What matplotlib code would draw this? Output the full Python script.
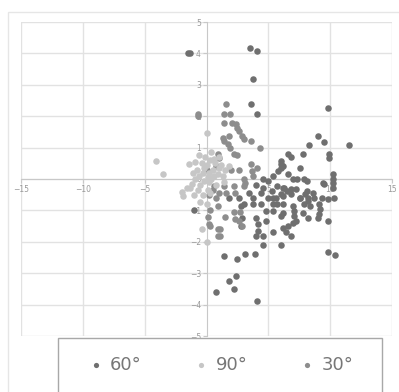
import matplotlib
matplotlib.use("Agg")
import matplotlib.pyplot as plt
from matplotlib.patches import Rectangle

# ── data ─────────────────────────────────────────────────────────────────────
x60 = [-1.5, -1.3, 3.5, 4.05, 3.8, 3.6, 4.1, 9.8, 11.5, 9.0, 9.5, 8.3, 9.9, 9.9,
       6.6, 6.8, 7.8, 7.6, 6.0, 6.0, 6.0, 6.6, 10.2, 10.2, 10.2, 7.0, 7.3, 7.9,
       8.1, 9.4, 9.5, 10.2, 6.3, 6.5, 6.8, 7.2, 8.1, 8.6, 7.6, 8.2, 8.7, 9.3,
       9.8, 10.3, 5.0, 5.4, 5.8, 6.2, 4.6, 5.3, 5.7, 6.2, 6.0, 3.8, 5.0, 5.4,
       5.6, 6.2, 6.8, 7.6, 8.0, 9.1, 9.2, 9.1, 9.0, 2.8, 3.0, 3.8, 4.4, 5.4,
       5.7, 6.2, 7.0, 7.9, 8.2, 8.4, 4.8, 5.4, 6.2, 6.0, 7.1, 7.1, 7.8, 8.2,
       2.9, 4.0, 4.8, 2.8, 4.2, 7.2, 9.8, 7.0, 6.6, 6.2, 5.4, 6.4, 6.8, 4.0,
       4.6, 4.2, 4.6, 6.0, 3.1, 3.9, 9.8, 10.4, 4.1, 1.4, 2.5, 1.8, 2.4, 2.2,
       0.8, -1.05, 3.4, 4.0, 4.4, 4.6, 2.6, 1.8]
y60 = [4.0, 4.0, 4.18, 4.08, 3.18, 2.39, 2.07, 2.26, 1.08, 1.37, 1.18, 1.08, 0.8, 0.67,
       0.8, 0.7, 0.8, 0.35, 0.57, 0.48, 0.35, 0.16, 0.16, 0.0, -0.13, 0.0, 0.0, 0.0,
       -0.06, -0.13, -0.16, -0.3, -0.29, -0.38, -0.32, -0.32, -0.38, -0.45, -0.6, -0.6, -0.6, -0.6,
       -0.63, -0.6, -0.06, 0.1, 0.25, 0.4, -0.29, -0.38, -0.22, -0.29, -0.48, -0.6, -0.6, -0.6,
       -0.6, -0.54, -0.48, -0.6, -0.48, -0.8, -0.95, -1.1, -1.25, -0.85, -0.8, -0.8, -0.8, -0.8,
       -0.8, -0.8, -0.85, -0.8, -0.7, -0.85, -1.02, -1.02, -1.08, -1.18, -1.02, -1.18, -1.08, -1.25,
       -1.25, -1.25, -1.34, -1.5, -1.43, -1.34, -1.34, -1.4, -1.5, -1.56, -1.7, -1.7, -1.8, -1.8,
       -1.8, -1.66, -2.1, -2.1, -2.4, -2.4, -2.32, -2.42, -3.9, -2.45, -2.55, -3.25, -3.1, -3.5,
       -3.6, -1.0, -0.45, -0.2, -0.45, 0.0, -0.6, -0.6]

x30 = [1.55, 1.4, 1.9, -0.65, -0.7, 1.4, 2.1, 2.4, 2.5, 2.6, 1.3, 1.4, 1.7, 1.9,
       2.9, 3.0, 1.8, 3.6, 4.3, 2.2, 2.5, 0.9, 1.0, 3.6, 4.1, 3.7, 3.8, 3.0,
       3.1, 0.6, 1.4, 2.2, 3.0, 1.0, 1.6, 2.3, 0.3, 0.1, 0.2, 0.3, 0.9, 1.1,
       0.9, 1.1, 1.5, 2.2, 2.7, 2.3, 2.6, 2.9, 0.9, 0.5, 0.0, 0.8, 2.0, 2.6,
       0.2, 0.8]
y30 = [2.39, 2.07, 2.07, 2.07, 2.0, 1.78, 1.78, 1.75, 1.62, 1.53, 1.3, 1.21, 1.11, 1.0,
       1.37, 1.27, 1.37, 1.21, 0.98, 0.8, 0.76, 0.8, 0.67, 0.48, 0.35, 0.25, 0.1, 0.0,
       -0.13, -0.22, -0.22, -0.22, -0.22, -0.45, -0.45, -0.45, -1.0, -1.2, -1.43, -1.5, -1.6, -1.6,
       -1.8, -1.8, -1.2, -1.05, -1.05, -1.27, -1.34, -1.5, -0.86, -0.35, 0.3, 0.4, 0.3, 0.3,
       -0.5, -0.6]

x90 = [-4.1, -3.5, -1.4, 0.05, -1.9, -0.5, 0.05, -0.4, -0.8, -0.6, -0.3, 0.0, 0.3,
       0.5, 0.7, 1.0, 1.2, 0.4, 0.2, -0.2, -0.5, -0.9, -1.1, -0.4, 1.5, 0.9, 0.6,
       -0.1, 0.4, -0.7, 0.1, -1.2, 1.3, 1.8, -0.3, -0.6, 0.2, -1.6, -2.0, -1.3,
       -0.9, 0.1, 0.6, 1.0, 0.3, -0.2, 0.8, 1.4, -1.0, 0.0]
y90 = [0.57, 0.16, 0.48, 1.46, -0.54, -0.73, -2.0, -1.6, 0.3, 0.1, 0.2, 0.45, 0.6,
       0.3, 0.5, 0.35, 0.45, 0.0, -0.1, -0.05, -0.2, 0.0, 0.2, 0.5, 0.3, 0.15, 0.1,
       0.7, 0.85, -0.35, -0.35, -0.15, 0.1, 0.4, -0.5, 0.75, 0.2, -0.3, -0.4, -0.3,
       0.55, 0.05, 0.65, 0.7, -0.45, 0.35, -0.2, -0.1, -0.5, -0.8]

x_ticks = [-15, -10, -5, 5, 10, 15]
y_ticks = [-5, -4, -3, -2, -1, 0, 1, 2, 3, 4, 5]

W, H = 399, 392
fig = plt.figure(figsize=(W / 100, H / 100), dpi=100)

# outer chart frame
fig.patches.append(Rectangle((8 / W, -0.05), 1.0, 1 - 12 / H + 0.05, transform=fig.transFigure,
                             fill=False, edgecolor='#e6e6e6', linewidth=1))

ax = fig.add_axes([21 / W, 1 - 336 / H, (392 - 21) / W, (336 - 22) / H])
ax.set_xlim(-15, 15)
ax.set_ylim(-5, 5)

ax.scatter(x60, y60, s=22, color='#6f6f6f', linewidths=0, label='60°', zorder=3)
ax.scatter(x30, y30, s=22, color='#8d8d8d', linewidths=0, label='30°', zorder=3)
ax.scatter(x90, y90, s=22, color='#c6c6c6', linewidths=0, label='90°', zorder=4)

ax.grid(True, color='#e2e2e2', linewidth=1)
ax.set_axisbelow(True)
for side in ('top', 'right'):
    ax.spines[side].set_visible(False)
ax.spines['left'].set_position('zero')
ax.spines['bottom'].set_position('zero')
ax.spines['left'].set_color('#c8c8c8')
ax.spines['bottom'].set_color('#c8c8c8')
ax.set_xticks(x_ticks)
ax.set_yticks(y_ticks)
ax.tick_params(length=3, width=0.8, color='#c8c8c8', labelsize=5.5, labelcolor='#999999', pad=1)

# legend
fig.patches.append(Rectangle((58 / W, -0.05), (382 - 58) / W, 1 - 338 / H + 0.05,
                             transform=fig.transFigure, facecolor='white',
                             edgecolor='#a8a8a8', linewidth=1, zorder=5))
handles, labels = ax.get_legend_handles_labels()
order = [0, 2, 1]
leg = fig.legend([handles[i] for i in order], [labels[i] for i in order],
                 loc='center', bbox_to_anchor=(220 / W, 1 - 365 / H), ncol=3,
                 frameon=False, fontsize=13, markerscale=0.8, handletextpad=0.3,
                 columnspacing=2.8, handlelength=1.0)
for t in leg.get_texts():
    t.set_color('#777777')
leg.set_zorder(6)

fig.savefig('out.png', dpi=100)
